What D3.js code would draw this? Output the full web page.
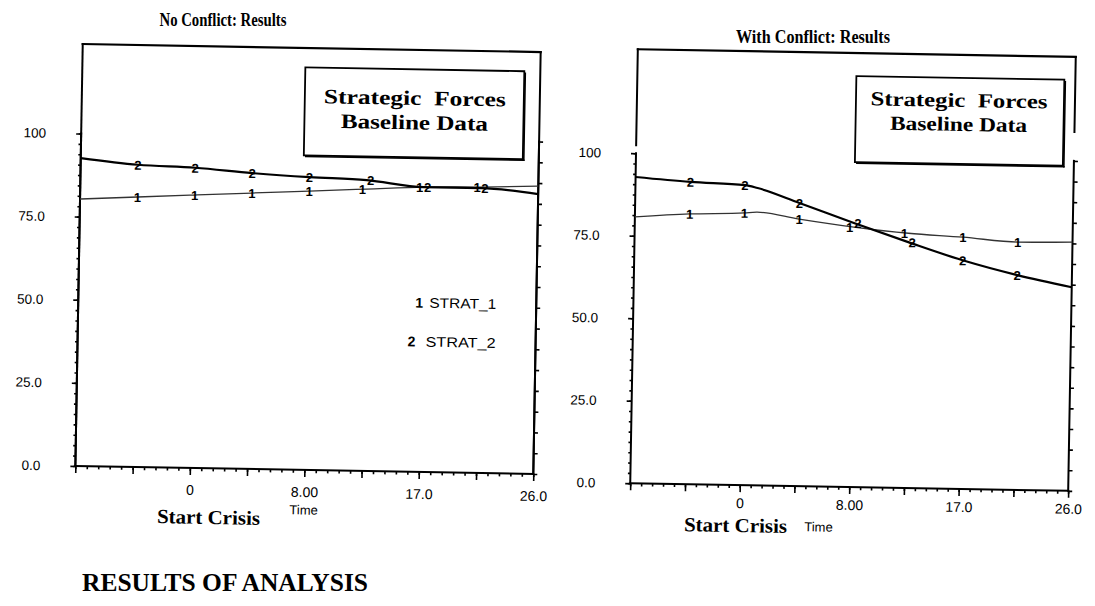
<!DOCTYPE html>
<html><head><meta charset="utf-8">
<script src="https://cdn.jsdelivr.net/npm/d3@7"></script>
<style>
html,body{margin:0;padding:0;background:#fff;}
svg{display:block}
.serif{font-family:"Liberation Serif","Times New Roman",serif;font-weight:bold;fill:#000}
.sans{font-family:"Liberation Sans",Arial,sans-serif;fill:#000}
</style></head><body>
<svg id="c" width="1095" height="606"></svg>
<script>
// ---------------- data ----------------
const timeNoConflict   = [-8.67, -4.33, 0, 4.33, 8.67, 13, 17.33, 21.67, 26];
const strat1NoConflict = [80.3, 81.2, 82.1, 83.0, 83.9, 84.8, 85.7, 86.0, 86.6];
const strat2NoConflict = [92.6, 90.9, 90.3, 89.0, 88.1, 87.5, 85.7, 85.7, 84.2];
const timeConflict     = [-8.67, -4.33, 0, 1, 4.33, 8.67, 13, 17.33, 21.67, 26];
const strat1Conflict   = [80.7, 81.9, 82.5, 82.8, 80.9, 78.8, 77.2, 76.3, 75.1, 75.4];
const strat2Conflict   = [92.8, 91.6, 90.9, 90.1, 85.8, 80.0, 74.5, 69.3, 65.1, 61.7];
const markerTimes  = [-4.33, 0, 4.33, 8.67, 13, 17.33, 21.67];
const xTickValues  = [-8.67, -4.33, 0, 4.33, 8.67, 13, 17.33, 21.67, 26];
const xTickLabels  = ["", "", "0", "", "8.00", "", "17.0", "", "26.0"];
const yTickValues  = [0, 25, 50, 75, 100];
const yTickLabels  = ["0.0", "25.0", "50.0", "75.0", "100"];
const seriesNames  = ["STRAT_1", "STRAT_2"];
const seriesMarks  = ["1", "2"];
const panelTitles  = ["No Conflict: Results", "With Conflict: Results"];
const boxLines     = ["Strategic  Forces", "Baseline Data"];
const axisWords    = ["Start Crisis", "Time"];
const footer       = "RESULTS OF ANALYSIS";

// ---------------- layout ----------------
const svg = d3.select('#c');
const panels = [
  {title: panelTitles[0], tx: 223, ty: 26, tw: 127,
   xL: 79, xR: 537, y0: 470, y100: 137.5, top: 48, cx: 308, cy: 260, angle: 1,
   endL: null, endR: null, time: timeNoConflict, s: [strat1NoConflict, strat2NoConflict],
   box: {x: 302, y: 67.5, w: 219, h: 88, size: 20.5, l: [{x: 412, y: 103, w: 182}, {x: 412, y: 127.5, w: 147}]},
   xPad: 10, crisis: {x: 213, y: 518.7, w: 103}, tword: {x: 308, y: 510}, legend: true},
  {title: panelTitles[1], tx: 813, ty: 43, tw: 154,
   xL: 634, xR: 1072, y0: 487, y100: 157, top: 53, cx: 850, cy: 270, angle: 1,
   endL: 149, endR: 128, time: timeConflict, s: [strat1Conflict, strat2Conflict],
   box: {x: 853, y: 76, w: 208, h: 86, size: 20, l: [{x: 956, y: 105, w: 177}, {x: 956, y: 129, w: 137}]},
   xPad: 6, crisis: {x: 740, y: 527, w: 103}, tword: {x: 823, y: 527.5}, legend: false}
];

function txt(g, cls, s, x, y, size, w, anchor) {
  const t = g.append('text').attr('class', cls).attr('x', x).attr('y', y)
    .attr('font-size', size).attr('text-anchor', anchor || 'middle').text(s);
  if (w) t.attr('textLength', w).attr('lengthAdjust', 'spacingAndGlyphs');
  return t;
}

panels.forEach(p => {
  const x = d3.scaleLinear().domain([xTickValues[0], xTickValues[xTickValues.length - 1]]).range([p.xL, p.xR]);
  const y = d3.scaleLinear().domain([0, 100]).range([p.y0, p.y100]);

  txt(svg, 'serif', p.title, p.tx, p.ty, 19.5, p.tw);

  const g = svg.append('g').attr('transform', `rotate(${p.angle},${p.cx},${p.cy})`);
  const ln = (x1, y1, x2, y2, w) => g.append('line').attr('x1', x1).attr('y1', y1).attr('x2', x2).attr('y2', y2)
      .attr('stroke', '#000').attr('stroke-width', w || 2).attr('stroke-linecap', 'square');

  // frame
  ln(p.xL, p.top, p.xR, p.top, 2.2);
  ln(p.xL, p.top, p.xL, p.endL == null ? y(0) : p.endL);
  ln(p.xR, p.top, p.xR, p.endR == null ? y(0) : p.endR);
  ln(p.xL, y(100), p.xL, y(0));
  ln(p.xR, y(100), p.xR, y(0));
  ln(p.xL, y(0), p.xR, y(0));

  // y axis (left) major + minor
  const ya = g.append('g').attr('transform', `translate(${p.xL},0)`)
    .call(d3.axisLeft(y).tickValues(yTickValues).tickFormat((d, i) => yTickLabels[i]).tickSize(5).tickSizeOuter(0).tickPadding(30));
  ya.select('.domain').remove();
  ya.selectAll('line').attr('stroke-width', 1.6);
  ya.selectAll('text').attr('class', 'sans').attr('font-size', 13.5).attr('font-family', null);
  const yMinor = g.append('g').attr('transform', `translate(${p.xL},0)`)
    .call(d3.axisLeft(y).tickValues(d3.range(0, 100.01, 3.125)).tickFormat('').tickSize(2.5).tickSizeOuter(0));
  yMinor.select('.domain').remove();
  yMinor.selectAll('line').attr('stroke-width', 1.6);

  // right axis ticks
  const yr = g.append('g').attr('transform', `translate(${p.xR},0)`)
    .call(d3.axisRight(y).tickValues(d3.range(0, 100.01, 6.25)).tickFormat('').tickSize(4).tickSizeOuter(0));
  yr.select('.domain').remove();
  yr.selectAll('line').attr('stroke-width', 1.6);

  // x axis major + minor
  const xa = g.append('g').attr('transform', `translate(0,${p.y0})`)
    .call(d3.axisBottom(x).tickValues(xTickValues).tickFormat((d, i) => xTickLabels[i]).tickSize(7).tickSizeOuter(0).tickPadding(p.xPad));
  xa.select('.domain').remove();
  xa.selectAll('line').attr('stroke-width', 1.6);
  xa.selectAll('text').attr('class', 'sans').attr('font-size', 14).attr('font-family', null);
  const xMinor = g.append('g').attr('transform', `translate(0,${p.y0})`)
    .call(d3.axisBottom(x).tickValues(d3.range(0, 41).map(i => x.invert(p.xL + i * (p.xR - p.xL) / 40))).tickFormat('').tickSize(3).tickSizeOuter(0));
  xMinor.select('.domain').remove();
  xMinor.selectAll('line').attr('stroke-width', 1.6);

  // axis words
  txt(g, 'serif', axisWords[0], p.crisis.x, p.crisis.y + 7, 20, p.crisis.w);
  txt(g, 'sans', axisWords[1], p.tword.x, p.tword.y + 4.5, 13);

  // legend box
  const b = p.box;
  g.append('rect').attr('x', b.x).attr('y', b.y).attr('width', b.w).attr('height', b.h)
    .attr('fill', '#fff').attr('stroke', '#000').attr('stroke-width', 1.8);
  ln(b.x + b.w + 1, b.y + 2, b.x + b.w + 1, b.y + b.h + 1, 1.6);
  ln(b.x + 2, b.y + b.h + 1, b.x + b.w + 1, b.y + b.h + 1, 1.6);
  boxLines.forEach((s, i) => txt(g, 'serif', s, b.l[i].x, b.l[i].y, b.size, b.l[i].w).attr('xml:space', 'preserve'));

  // series lines
  const line = d3.line().x(d => x(d[0])).y(d => y(d[1])).curve(d3.curveMonotoneX);
  p.s.forEach((vals, si) => {
    const pts = p.time.map((t, i) => [t, vals[i]]);
    g.append('path').attr('d', line(pts)).attr('fill', 'none')
      .attr('stroke', si === 0 ? '#333' : '#000').attr('stroke-width', si === 0 ? 1.3 : 2.2);
  });
  // markers (side by side where both series meet, as in "12")
  p.time.forEach((t, i) => {
    if (!markerTimes.includes(t)) return;
    const ya1 = y(p.s[0][i]), ya2 = y(p.s[1][i]);
    const close = Math.abs(ya1 - ya2) < 9;
    [ya1, ya2].forEach((yy, si) => {
      g.append('text').attr('class', 'sans').attr('font-weight', 'bold').attr('font-size', 13)
        .attr('text-anchor', 'middle').attr('dominant-baseline', 'central')
        .attr('x', x(t) + (close ? (si === 0 ? -4 : 4) : 0)).attr('y', yy + 0.5).text(seriesMarks[si]);
    });
  });

  // series legend
  if (p.legend) {
    [300.6, 339.6].forEach((yy, i) => {
      txt(g, 'sans', seriesMarks[i], 430 - (i ? 7 : 0) - 10, yy + 5, 14, null, 'middle').attr('font-weight', 'bold');
      txt(g, 'sans', seriesNames[i], 497, yy + 5, 14, i ? 70 : 67, 'end');
    });
  }
});

txt(svg, 'serif', footer, 82, 591, 25, 286, 'start');
</script>
</body></html>
